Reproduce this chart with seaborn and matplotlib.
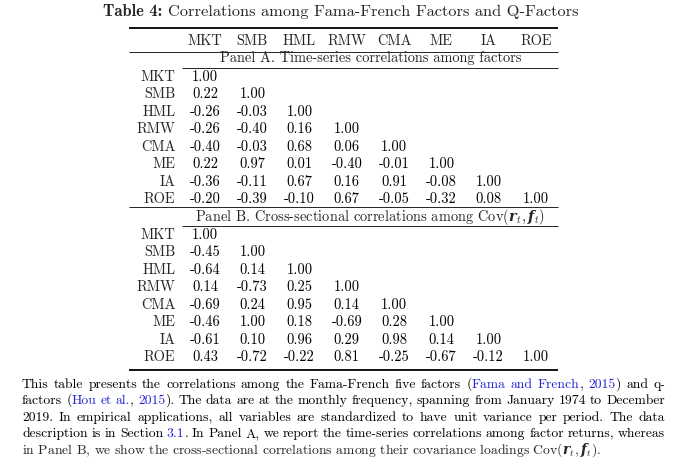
import re
import numpy as np
import pandas as pd
import matplotlib
matplotlib.use("Agg")
import matplotlib.pyplot as plt
from matplotlib.colors import ListedColormap
from matplotlib.lines import Line2D
from matplotlib.transforms import blended_transform_factory
import seaborn as sns

# --- Data ---
factors = ['MKT', 'SMB', 'HML', 'RMW', 'CMA', 'ME', 'IA', 'ROE']

panel_a_rows = [
    [1.00],
    [0.22, 1.00],
    [-0.26, -0.03, 1.00],
    [-0.26, -0.40, 0.16, 1.00],
    [-0.40, -0.03, 0.68, 0.06, 1.00],
    [0.22, 0.97, 0.01, -0.40, -0.01, 1.00],
    [-0.36, -0.11, 0.67, 0.16, 0.91, -0.08, 1.00],
    [-0.20, -0.39, -0.10, 0.67, -0.05, -0.32, 0.08, 1.00],
]

panel_b_rows = [
    [1.00],
    [-0.45, 1.00],
    [-0.64, 0.14, 1.00],
    [0.14, -0.73, 0.25, 1.00],
    [-0.69, 0.24, 0.95, 0.14, 1.00],
    [-0.46, 1.00, 0.18, -0.69, 0.28, 1.00],
    [-0.61, 0.10, 0.96, 0.29, 0.98, 0.14, 1.00],
    [0.43, -0.72, -0.22, 0.81, -0.25, -0.67, -0.12, 1.00],
]

title_bold = 'Table 4:'
title_rest = 'Correlations among Fama-French Factors and Q-Factors'
panel_a_title = 'Panel A. Time-series correlations among factors'
panel_b_title = r'Panel B. Cross-sectional correlations among Cov$(\mathbfit{r}_t, \mathbfit{f}_t)$'

# {...} marks the blue (linked) parts of the caption
caption_lines = [
    'This table presents the correlations among the Fama-French five factors ({Fama} {and} {French}, {2015}) and q-',
    'factors ({Hou} {et} {al.}, {2015}). The data are at the monthly frequency, spanning from January 1974 to December',
    '2019. In empirical applications, all variables are standardized to have unit variance per period. The data',
    'description is in Section {3.1}. In Panel A, we report the time-series correlations among factor returns, whereas',
]
caption_last = r'in Panel B, we show the cross-sectional correlations among their covariance loadings Cov$(\mathbfit{r}_t, \mathbfit{f}_t)$.'

W, H = 680, 469
LINK_BLUE = '#2424d6'


def to_frame(rows):
    mat = np.full((len(factors), len(factors)), np.nan)
    for i, r in enumerate(rows):
        mat[i, :len(r)] = r
    return pd.DataFrame(mat, index=factors, columns=factors)


def fx(px):
    return px / W


def fy(py):
    return 1 - py / H


def hrule(fig, x0, x1, y, lw):
    fig.add_artist(Line2D([fx(x0), fx(x1)], [fy(y), fy(y)], lw=lw, color='black',
                          solid_capstyle='butt'))


def text_width(fig, renderer, s, **kw):
    t = fig.text(0, 0, s, **kw)
    w = t.get_window_extent(renderer).width
    t.remove()
    return w


def main():
    sns.set_style("white")
    plt.rcParams['font.family'] = ['cmr10', 'DejaVu Serif']
    plt.rcParams['mathtext.fontset'] = 'custom'
    plt.rcParams['mathtext.rm'] = 'cmr10'
    plt.rcParams['mathtext.it'] = 'cmmi10'
    plt.rcParams['mathtext.bf'] = 'cmb10'
    plt.rcParams['mathtext.bfit'] = 'DejaVu Serif:italic:bold'

    fig = plt.figure(figsize=(W / 100, H / 100), dpi=100)
    renderer = fig.canvas.get_renderer()

    table_fs = 10.4
    cap_fs = 9.85
    title_fs = 11.8

    # --- Title ---
    kw_b = dict(family='cmb10', fontsize=title_fs)
    kw_r = dict(fontsize=title_fs)
    wb = text_width(fig, renderer, title_bold, **kw_b)
    gap = 6
    wr = text_width(fig, renderer, title_rest, **kw_r)
    x0 = 341 - (wb + gap + wr) / 2
    fig.text(fx(x0), fy(12), title_bold, va='center', **kw_b)
    fig.text(fx(x0 + wb + gap), fy(12), title_rest, va='center', **kw_r)

    # --- Two panels drawn as heatmaps with white cells ---
    left, right = 181.5, 559.5
    white = ListedColormap(['white'])
    panels = [(panel_a_rows, 68, 208), (panel_b_rows, 226, 366)]
    axes = []
    for rows, top, bottom in panels:
        ax = fig.add_axes([fx(left), fy(bottom), (right - left) / W, (bottom - top) / H])
        sns.heatmap(to_frame(rows), ax=ax, cmap=white, cbar=False, annot=True, fmt='.2f',
                    annot_kws={'fontsize': table_fs, 'color': 'black'},
                    xticklabels=False, yticklabels=factors)
        ax.tick_params(axis='y', length=0, pad=4.5, labelsize=table_fs, labelrotation=0)
        ax.tick_params(axis='x', length=0)
        ax.set_xlabel('')
        ax.set_ylabel('')
        axes.append(ax)

    # column header above panel A
    trans = blended_transform_factory(axes[0].transData, fig.transFigure)
    for i, name in enumerate(factors):
        axes[0].text(i + 0.5, fy(41), name, transform=trans, ha='center', va='center',
                     fontsize=table_fs)

    fig.text(fx((left + right) / 2), fy(58), panel_a_title, ha='center', va='center',
             fontsize=table_fs)
    fig.text(fx((left + right) / 2), fy(217), panel_b_title, ha='center', va='center',
             fontsize=table_fs)

    # --- Booktabs-style rules ---
    hrule(fig, 129, 558, 28, 1.3)
    hrule(fig, 129, 558, 52, 0.6)
    hrule(fig, 182, 558, 68, 0.6)
    hrule(fig, 129, 558, 207.5, 0.6)
    hrule(fig, 182, 558, 226, 0.6)
    hrule(fig, 129, 558, 370, 1.3)

    # --- Caption, justified (baselines) ---
    cx0, cx1 = 22, 665
    cap_base = [388, 404, 421, 437]
    for line, y in zip(caption_lines, cap_base):
        words = []
        for word in line.split(' '):
            segs = []
            for piece in re.split(r'(\{[^}]*\})', word):
                if not piece:
                    continue
                if piece.startswith('{'):
                    segs.append((piece[1:-1], LINK_BLUE))
                else:
                    segs.append((piece, 'black'))
            widths = [text_width(fig, renderer, s, fontsize=cap_fs) for s, _ in segs]
            words.append((segs, widths))
        total = sum(sum(w) for _, w in words)
        space = (cx1 - cx0 - total) / (len(words) - 1)
        x = cx0
        for segs, widths in words:
            for (s, c), w in zip(segs, widths):
                fig.text(fx(x), fy(y), s, color=c, va='baseline', fontsize=cap_fs)
                x += w
            x += space
    fig.text(fx(cx0), fy(454), caption_last, va='baseline', fontsize=cap_fs)

    fig.savefig('out.png', dpi=100)


if __name__ == '__main__':
    main()
